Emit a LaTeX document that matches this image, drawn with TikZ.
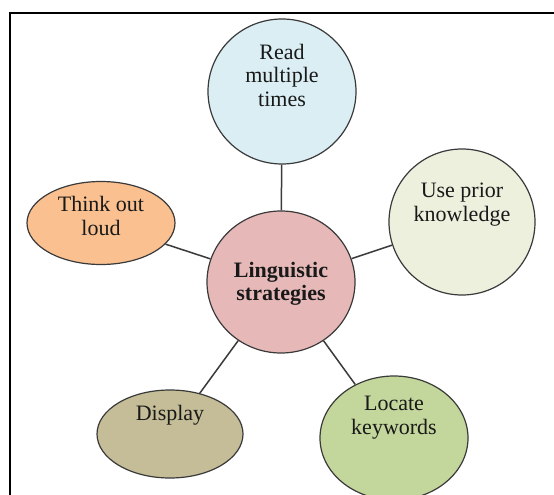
\documentclass[tikz,border=0pt]{standalone}
\usepackage{fontspec}
\setmainfont{Liberation Serif}
\usetikzlibrary{shapes.geometric}
\definecolor{cRead}{HTML}{DAEEF3}
\definecolor{cCenter}{HTML}{E6B9B8}
\definecolor{cThink}{HTML}{FAC090}
\definecolor{cUse}{HTML}{ECF0DD}
\definecolor{cDisplay}{HTML}{C4BD97}
\definecolor{cLocate}{HTML}{C3D69B}
\definecolor{cEdge}{HTML}{3A3A3A}
\begin{document}
\begin{tikzpicture}[x=1pt,y=-1pt,
  bub/.style={ellipse, draw=cEdge, line width=1.2pt, inner sep=0pt},
  txt/.style={align=center, font=\fontsize{22}{23.5}\selectfont, inner sep=0pt, text=black!90},
  link/.style={draw=cEdge, line width=1.5pt},
  frameline/.style={draw=black, line width=2pt}]
\useasboundingbox (0,0) rectangle (554,495);
\fill[white] (0,0) rectangle (554,495);
\coordinate (fa) at (10,496);
\coordinate (fb) at (10,13);
\coordinate (fc) at (555,13);
\draw[frameline] (fa) -- (fb) -- (fc);

\node[bub, fill=cRead, minimum width=148pt, minimum height=145pt] (r) at (282,91.5) {};
\node[bub, fill=cCenter, minimum width=148pt, minimum height=142pt] (c) at (281,282) {};
\node[bub, fill=cThink, minimum width=148pt, minimum height=83pt] (t) at (101,223) {};
\node[bub, fill=cUse, minimum width=146pt, minimum height=146pt] (u) at (462,222) {};
\node[bub, fill=cDisplay, minimum width=146pt, minimum height=88pt] (d) at (170,434) {};
\node[bub, fill=cLocate, minimum width=148pt, minimum height=124pt] (l) at (394,438) {};

\draw[link] (c) -- (r);
\draw[link] (c) -- (t);
\draw[link] (c) -- (u);
\draw[link] (c) -- (d);
\draw[link] (c) -- (l);

\node[txt] (rt) at (282,75) {Read\\multiple\\times};
\node[txt, font=\fontsize{22}{23.5}\selectfont\bfseries] (ct) at (281,284) {Linguistic\\strategies};
\node[txt] (tt) at (101,216) {Think out\\loud};
\node[txt] (ut) at (462,204.5) {Use prior\\knowledge};
\node[txt] (dt) at (170,415) {Display};
\node[txt] (lt) at (394,417.5) {Locate\\keywords};
\end{tikzpicture}
\end{document}
